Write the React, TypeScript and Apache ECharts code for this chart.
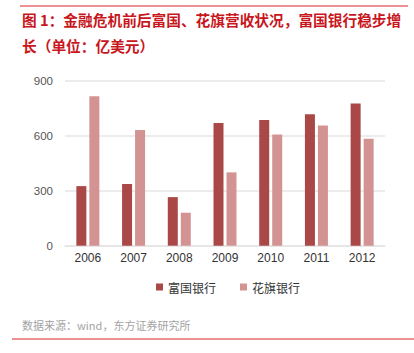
import React, { useEffect, useRef } from "react";
import * as echarts from "echarts";

const years = ["2006", "2007", "2008", "2009", "2010", "2011", "2012"];
const wellsFargo = [325, 336, 265, 669, 686, 717, 775];
const citi = [815, 631, 180, 400, 606, 655, 584];
const seriesNames = ["富国银行", "花旗银行"];
const titleLine1 = "图 1：金融危机前后富国、花旗营收状况，富国银行稳步增";
const titleLine2 = "长（单位：亿美元）";
const sourceText = "数据来源：wind，东方证券研究所";

export default function App() {
  const ref = useRef<HTMLDivElement>(null);
  useEffect(() => {
    if (!ref.current) return;
    const chart = echarts.init(ref.current, null, { renderer: "svg" });
    const font = "'Noto Sans CJK SC', 'Noto Sans', sans-serif";
    chart.setOption({
      animation: false,
      backgroundColor: "#ffffff",
      textStyle: { fontFamily: font },
      grid: { left: 65, right: 29, top: 80.7, bottom: 107.3, containLabel: false },
      legend: {
        data: seriesNames,
        left: 151,
        top: 276,
        itemWidth: 7,
        itemHeight: 7,
        itemGap: 24,
        icon: "rect",
        textStyle: { fontSize: 12, color: "#333333", fontFamily: font },
      },
      xAxis: {
        type: "category",
        data: years,
        axisLine: { lineStyle: { color: "#e3e3e3", width: 1.5 } },
        axisTick: { show: false },
        axisLabel: { fontSize: 12, color: "#333333", margin: 6, fontFamily: "Liberation Sans, Arial, sans-serif" },
      },
      yAxis: {
        type: "value",
        min: 0,
        max: 900,
        interval: 300,
        axisLine: { show: false },
        axisTick: { show: false },
        splitLine: { lineStyle: { color: "#e6e6e6", width: 1.5 } },
        axisLabel: { fontSize: 11.5, color: "#555555", margin: 12, fontFamily: "Liberation Sans, Arial, sans-serif" },
      },
      series: [
        {
          name: seriesNames[0],
          type: "bar",
          data: wellsFargo,
          barWidth: 10,
          barGap: "30%",
          itemStyle: { color: "#aa4848" },
        },
        {
          name: seriesNames[1],
          type: "bar",
          data: citi,
          barWidth: 10,
          itemStyle: { color: "#d39393" },
        },
      ],
      graphic: [
        { type: "line", shape: { x1: 20, y1: 6, x2: 408, y2: 6 }, style: { stroke: "#d9262c", lineWidth: 1.2 } },
        {
          type: "text",
          x: 22,
          y: 19,
          style: { text: titleLine1, fontSize: 14.7, fontWeight: "bold", fill: "#c8161d", fontFamily: font, verticalAlign: "middle" },
        },
        {
          type: "text",
          x: 22,
          y: 45,
          style: { text: titleLine2, fontSize: 14.7, fontWeight: "bold", fill: "#c8161d", fontFamily: font, verticalAlign: "middle" },
        },
        {
          type: "text",
          x: 22,
          y: 325,
          style: { text: sourceText, fontSize: 11, fill: "#a3a3a3", fontFamily: font, verticalAlign: "middle" },
        },
        { type: "line", shape: { x1: 12, y1: 339, x2: 414, y2: 339 }, style: { stroke: "#d9262c", lineWidth: 1.2 } },
      ],
    });
    return () => chart.dispose();
  }, []);
  return <div ref={ref} style={{ position: "fixed", left: 0, top: 0, width: 414, height: 353 }} />;
}
